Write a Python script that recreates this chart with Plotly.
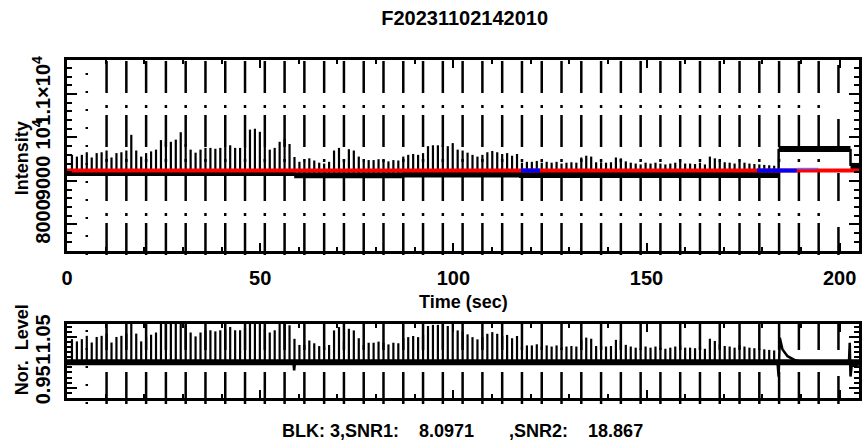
import numpy as np
import plotly.graph_objects as go

# ---------------- data ----------------
title_text = "F20231102142010"
x_tick_vals = [0, 50, 100, 150, 200]
int_tick_vals = [8000, 9000, 10000, 11000]
int_tick_text = ["8000", "9000", "10<sup>4</sup>", "1.1×10<sup>4</sup>"]
nor_tick_vals = [0.95, 1.0, 1.05]
nor_tick_text = ["0.95", "1", "1.05"]

# baseline segments of the intensity record (sec, counts)
seg_edges = [0, 58.8, 87.2, 117.0, 184.2, 202.8, 205.0]
seg_levels = [9184, 9130, 9149, 9138, 9736, 9345]

# peak intensity of each periodic pulse (one every 1.28 s)
spike_period = 1.28
spike_peaks = [
    9600, 9560, 9600, 9660, 9540, 9640, 9660, 9700, 9540, 9640,
    9660, 9700, 10060, 9700, 9560, 9640, 9680, 9720, 9940, 9900,
    9900, 9950, 10120, 9850, 9720, 9650, 9720, 9760, 9760, 9740,
    9760, 9780, 9820, 9760, 9760, 9800, 10180, 10200, 10130, 9780,
    9720, 9760, 9900, 9960, 9850, 9550,
    9440, 9440, 9520, 9470, 9420, 9400, 9440, 9700, 9760, 9500,
    9730, 9700, 9560, 9440, 9480, 9480, 9500, 9480, 9450, 9480,
    9470, 9560,
    9600, 9620, 9600, 9640, 9800, 9820, 9820, 9830, 9800, 9870,
    9720, 9700, 9650, 9600, 9560, 9600, 9660, 9690, 9660, 9620,
    9640, 9580, 9620,
    9420, 9440, 9440, 9460, 9420, 9440, 9420, 9440, 9400, 9420,
    9430, 9420, 9540, 9580, 9560, 9430, 9430, 9420, 9430, 9540,
    9520, 9450, 9420, 9400, 9380, 9420, 9400, 9420, 9400, 9380,
    9400, 9420, 9440, 9400, 9400, 9390, 9420, 9380, 9560, 9520,
    9460, 9430, 9420, 9400, 9440, 9420, 9400, 9390, 9380, 9370,
    9360, 9350,
]

# fitted level (red) and flagged spans (blue)
fit_level = 9241
blue_spans = [[117.5, 122.4], [178.6, 188.9]]
thin_blue_span = [188.9, 194.5]
thin_blue_level = 9285

# normalised level: transients around the level changes
nor_event_t = [0, 58.6, 58.8, 59.0, 183.9, 184.2, 184.5, 185.2, 186.5, 188.5,
               190.5, 202.4, 202.6, 202.8, 203.1, 205.0]
nor_event_v = [1.0, 1.0, 0.984, 1.0, 1.0, 0.972, 1.048, 1.025, 1.012, 1.004,
               1.0, 1.0, 1.038, 0.972, 0.992, 0.996]

# block markers every 5.12 s
marker_period = 5.12
n_markers = 39

blk_text = ("BLK: 3,SNR1:" + "\u00a0" * 4 + "8.0971" + "\u00a0" * 7 +
            ",SNR2:" + "\u00a0" * 4 + "18.867")

# ---------------- build ----------------
FONT = "Liberation Sans, Arial, sans-serif"
x_range = [0, 205]
y_range = [7390, 11780]
y2_range = [0.93, 1.075]

spike_t = np.arange(1, len(spike_peaks) + 1) * spike_period


def level_at(t):
    for i in range(len(seg_levels)):
        if seg_edges[i] <= t < seg_edges[i + 1]:
            return seg_levels[i]
    return seg_levels[-1]


fig = go.Figure()

# top: baseline segments
bx, by = [], []
for i, lev in enumerate(seg_levels):
    bx += [seg_edges[i], seg_edges[i + 1], None]
    by += [lev, lev, None]
fig.add_trace(go.Scatter(x=bx, y=by, mode="lines", line=dict(color="black", width=6),
                         xaxis="x", yaxis="y", hoverinfo="skip"))
# top: level steps
sx, sy = [], []
for i in range(1, len(seg_levels)):
    sx += [seg_edges[i], seg_edges[i], None]
    sy += [seg_levels[i - 1], seg_levels[i], None]
fig.add_trace(go.Scatter(x=sx, y=sy, mode="lines", line=dict(color="black", width=2.5),
                         xaxis="x", yaxis="y", hoverinfo="skip"))
# top: pulses
px_, py_ = [], []
for t, p in zip(spike_t, spike_peaks):
    b = level_at(t)
    px_ += [t, t, None]
    py_ += [b, p, None]
fig.add_trace(go.Scatter(x=px_, y=py_, mode="lines", line=dict(color="black", width=2.2),
                         xaxis="x", yaxis="y", hoverinfo="skip"))
# fit line + flagged spans
fig.add_trace(go.Scatter(x=x_range, y=[fit_level, fit_level], mode="lines",
                         line=dict(color="#ff0000", width=4), xaxis="x", yaxis="y"))
for s in blue_spans:
    fig.add_trace(go.Scatter(x=s, y=[fit_level, fit_level], mode="lines",
                             line=dict(color="#0000ff", width=4), xaxis="x", yaxis="y"))
fig.add_trace(go.Scatter(x=thin_blue_span, y=[thin_blue_level, thin_blue_level], mode="lines",
                         line=dict(color="#6a6aff", width=1.5), xaxis="x", yaxis="y"))

# bottom: normalised level
fig.add_trace(go.Scatter(x=x_range, y=[1.0, 1.0], mode="lines",
                         line=dict(color="black", width=6), xaxis="x2", yaxis="y2"))
fig.add_trace(go.Scatter(x=nor_event_t, y=nor_event_v, mode="lines",
                         line=dict(color="black", width=2.5), xaxis="x2", yaxis="y2"))
nx, ny = [], []
for t, p in zip(spike_t, spike_peaks):
    b = level_at(t)
    nx += [t, t, None]
    ny += [1.0, p / b, None]
fig.add_trace(go.Scatter(x=nx, y=ny, mode="lines", line=dict(color="black", width=2.2),
                         xaxis="x2", yaxis="y2", hoverinfo="skip"))

# block marker lines
shapes = []
for k in range(1, n_markers + 1):
    xm = k * marker_period
    if k == 1:
        dash = "2px,16px"
    elif k == n_markers:
        dash = "28px,26px"
    else:
        dash = "32px,7px,3px,12px"
    for xr, yr, y0 in (("x", "y domain", -0.021), ("x2", "y2 domain", -0.08)):
        shapes.append(dict(type="line", xref=xr, yref=yr, x0=xm, x1=xm, y0=y0, y1=1.0,
                           line=dict(color="black", width=2.5, dash=dash), layer="below"))

axis_common = dict(showline=True, linewidth=2.5, linecolor="black", mirror="allticks",
                   ticks="inside", tickcolor="black", tickwidth=2, showgrid=False,
                   zeroline=False)

fig.update_layout(
    width=866, height=443,
    margin=dict(l=67, r=4, t=60, b=45),
    paper_bgcolor="white", plot_bgcolor="white",
    showlegend=False,
    font=dict(family=FONT, size=20, color="black", weight="bold"),
    title=dict(text=title_text, x=0.5365, xanchor="center", y=1 - 17.5 / 443,
               yanchor="middle", font=dict(size=20, family=FONT, weight="bold")),
    xaxis=dict(domain=[0, 1], range=x_range, anchor="y", tickmode="array",
               tickvals=x_tick_vals, ticklen=8, ticklabelstandoff=7,
               minor=dict(dtick=10, tick0=0, ticks="inside", ticklen=4, tickwidth=2,
                          tickcolor="black"),
               **axis_common),
    yaxis=dict(domain=[0.4349, 1], range=y_range, anchor="x", tickmode="array",
               tickvals=int_tick_vals, ticktext=int_tick_text, tickangle=-90,
               ticklen=10, ticklabelstandoff=6,
               minor=dict(dtick=200, tick0=0, ticks="inside", ticklen=5, tickwidth=2,
                          tickcolor="black"),
               **axis_common),
    xaxis2=dict(domain=[0, 1], range=x_range, anchor="y2", tickmode="array",
                tickvals=x_tick_vals, ticklen=8, showticklabels=False,
                minor=dict(dtick=10, tick0=0, ticks="inside", ticklen=4, tickwidth=2,
                           tickcolor="black"),
                **axis_common),
    yaxis2=dict(domain=[0, 0.2189], range=y2_range, anchor="x2", tickmode="array",
                tickvals=nor_tick_vals, ticktext=nor_tick_text, tickangle=-90,
                ticklen=10, ticklabelstandoff=6,
                minor=dict(dtick=0.01, tick0=0, ticks="inside", ticklen=5, tickwidth=2,
                           tickcolor="black"),
                **axis_common),
    shapes=shapes,
    annotations=[
        dict(text="Time (sec)", xref="paper", yref="paper", x=0.5, y=(398 - 302) / 338,
             xanchor="center", yanchor="middle", showarrow=False, font=dict(size=18)),
        dict(text="Intensity", xref="paper", yref="paper", x=(22 - 67) / 795,
             y=(398 - 158) / 338, xanchor="center", yanchor="middle", textangle=-90,
             showarrow=False, font=dict(size=18)),
        dict(text="Nor.\u00a0\u00a0Level", xref="paper", yref="paper", x=(22 - 67) / 795,
             y=(398 - 350) / 338, xanchor="center", yanchor="middle", textangle=-90,
             showarrow=False, font=dict(size=18)),
        dict(text=blk_text, xref="paper", yref="paper", x=(464 - 67) / 795,
             y=(398 - 431) / 338, xanchor="center", yanchor="middle",
             showarrow=False, font=dict(size=18)),
    ],
)

fig.write_html("out.html", config={"displayModeBar": False},
               post_script="document.body.style.margin='0';")
